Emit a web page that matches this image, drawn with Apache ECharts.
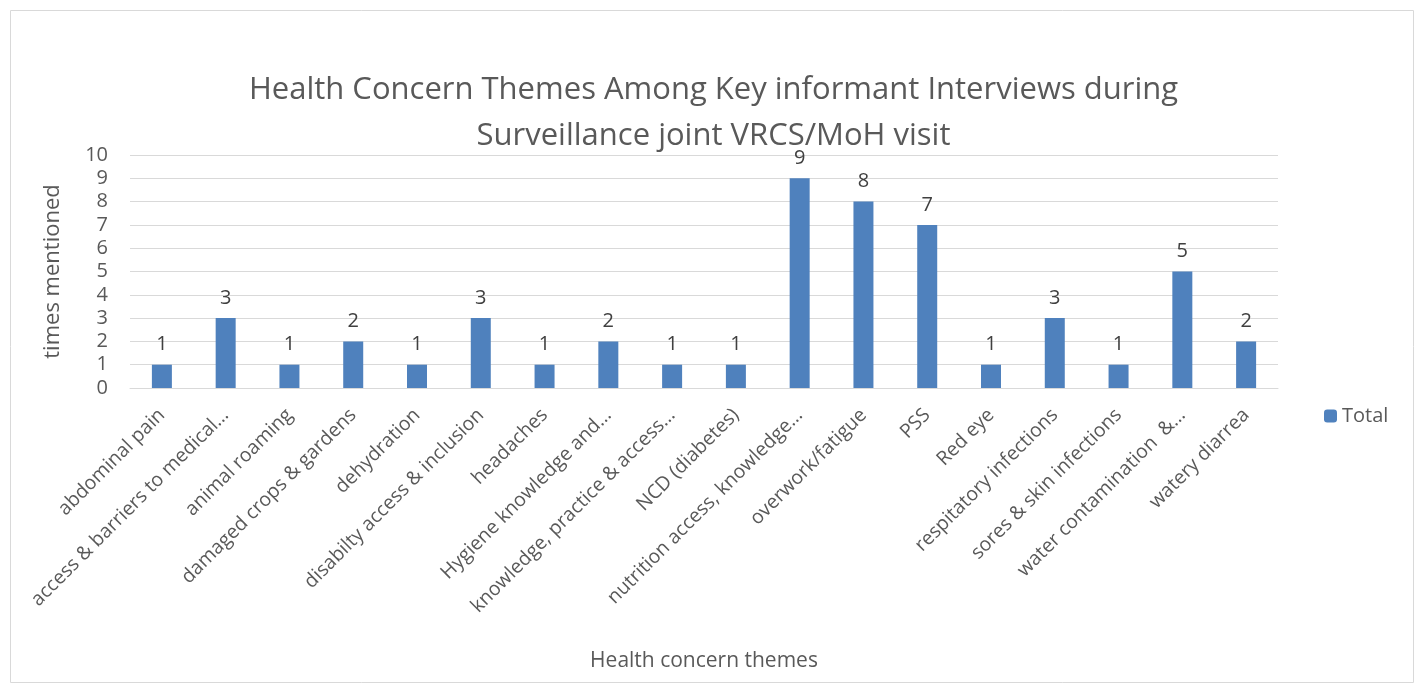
<!DOCTYPE html>
<html>
<head>
<meta charset="utf-8">
<script src="https://cdn.jsdelivr.net/npm/echarts@6/dist/echarts.min.js"></script>
<style>
  html, body { margin: 0; padding: 0; background: #fff; }
  #chart { width: 1427px; height: 694px; }
</style>
</head>
<body>
<div id="chart"></div>
<script>
// category labels as shown (Excel truncated the long ones)
var themes = [
  "abdominal pain",
  "access & barriers to medical…",
  "animal roaming",
  "damaged crops & gardens",
  "dehydration",
  "disabilty access & inclusion",
  "headaches",
  "Hygiene knowledge and…",
  "knowledge, practice & access…",
  "NCD (diabetes)",
  "nutrition access, knowledge…",
  "overwork/fatigue",
  "PSS",
  "Red eye",
  "respitatory infections",
  "sores & skin infections",
  "water contamination  &…",
  "watery diarrea"
];
var totals = [1, 3, 1, 2, 1, 3, 1, 2, 1, 1, 9, 8, 7, 1, 3, 1, 5, 2];
var yTicks = [0, 10, 1]; // min, max, step

var font = "Open Sans";
var textGrey = "#595959";

var chart = echarts.init(document.getElementById("chart"));
chart.setOption({
  animation: false,
  textStyle: { fontFamily: font },
  title: {
    text: "Health Concern Themes Among Key informant Interviews during\nSurveillance joint VRCS/MoH visit",
    left: "center",
    top: 62,
    textStyle: { fontSize: 31, fontWeight: "normal", color: textGrey, lineHeight: 46, fontFamily: font }
  },
  graphic: [{
    type: "rect",
    shape: { x: 10.5, y: 10.5, width: 1403, height: 672 },
    style: { fill: null, stroke: "#d9d9d9", lineWidth: 1 },
    silent: true
  }],
  legend: {
    data: ["Total"],
    left: 1319,
    top: 401,
    itemWidth: 13,
    itemHeight: 13,
    itemGap: 6,
    textStyle: { fontSize: 20, color: textGrey, fontFamily: font }
  },
  grid: { left: 130, right: 149, top: 155, bottom: 306 },
  xAxis: {
    type: "category",
    data: themes,
    name: "Health concern themes",
    nameLocation: "middle",
    nameGap: 263,
    nameTextStyle: { fontSize: 21, color: textGrey, fontFamily: font },
    axisLine: { lineStyle: { color: "#d9d9d9", width: 1 } },
    axisTick: { show: false },
    axisLabel: { interval: 0, rotate: 45, fontSize: 19.5, color: textGrey, margin: 24, fontFamily: font }
  },
  yAxis: {
    type: "value",
    min: yTicks[0],
    max: yTicks[1],
    interval: yTicks[2],
    name: "times mentioned",
    nameLocation: "middle",
    nameGap: 66,
    nameTextStyle: { fontSize: 22, color: textGrey, fontFamily: font },
    axisLine: { show: false },
    axisTick: { show: false },
    axisLabel: { fontSize: 20, color: textGrey, margin: 22, fontFamily: font },
    splitLine: { lineStyle: { color: "#d9d9d9", width: 1 } }
  },
  series: [{
    name: "Total",
    type: "bar",
    data: totals,
    barWidth: 20,
    itemStyle: { color: "#4f81bd" },
    label: {
      show: true,
      position: "top",
      distance: 10,
      fontSize: 20,
      color: "#404040",
      fontFamily: font
    }
  }]
});
</script>
</body>
</html>
